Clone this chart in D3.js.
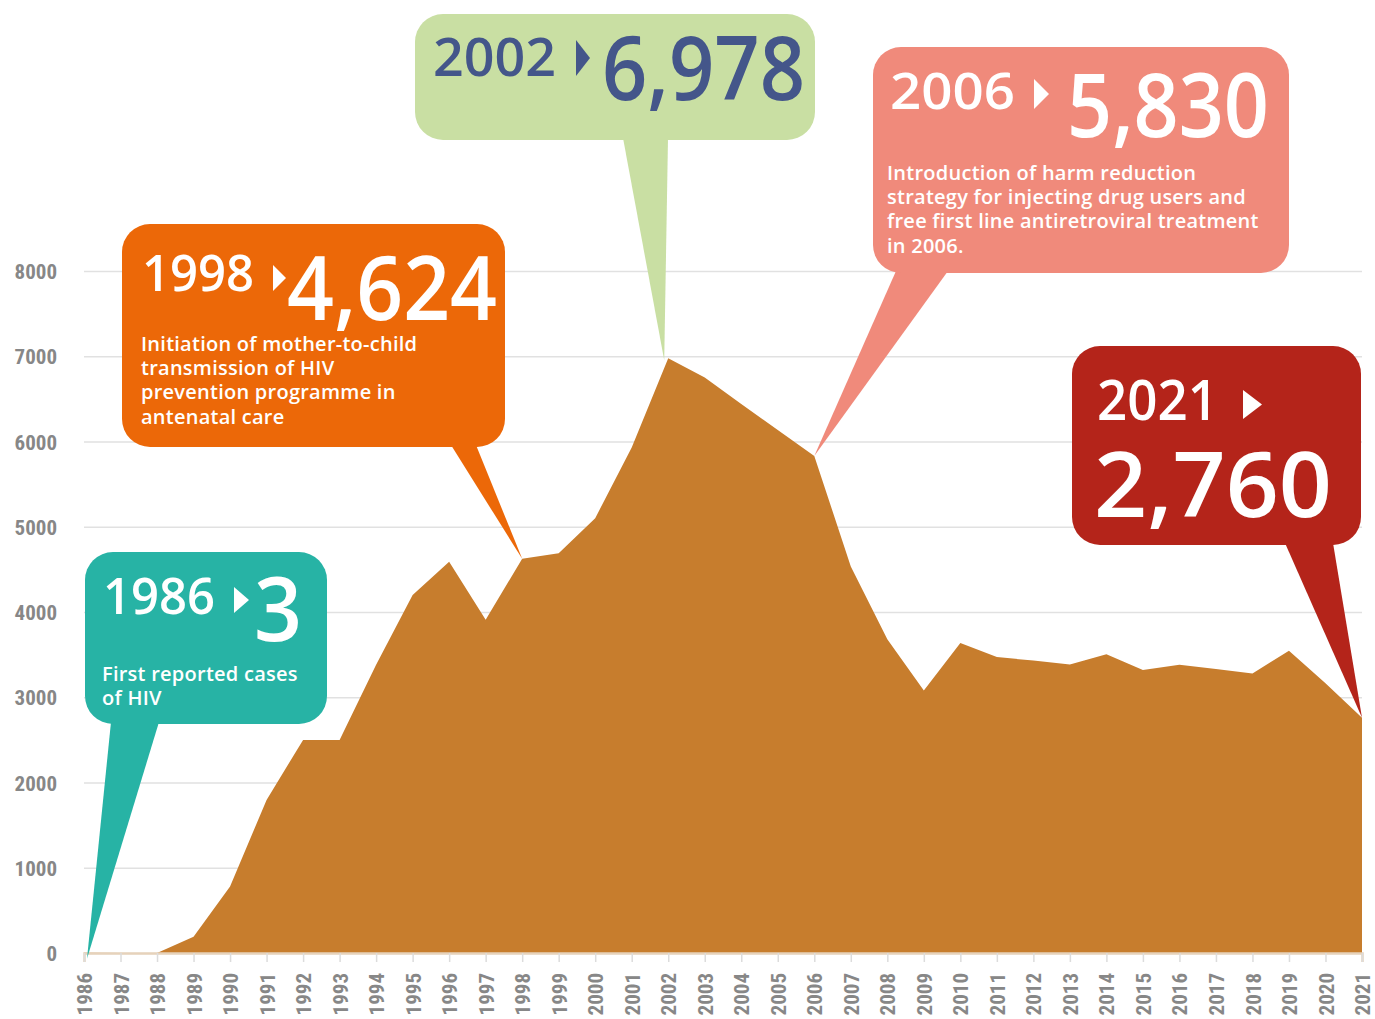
<!DOCTYPE html>
<html>
<head>
<meta charset="utf-8">
<script src="https://cdn.jsdelivr.net/npm/d3@7"></script>
<style>
  body { margin: 0; background: #fff; }
  svg { display: block; }
  .tick text { font-family: "Roboto Condensed", Roboto, "Liberation Sans", sans-serif; font-weight: 700; fill: #878787; }
  .callout text { font-family: "Open Sans", "Noto Sans", sans-serif; }
</style>
</head>
<body>
<div id="chart"></div>
<script>
// reported HIV cases per year
const years = d3.range(1986, 2022);
const cases = [3, 0, 0, 190, 780, 1795, 2500, 2500, 3380, 4200,
               4590, 3910, 4624, 4690, 5100, 5930, 6978, 6750, 6440, 6135,
               5830, 4535, 3680, 3080, 3636, 3472, 3430, 3385, 3505, 3320,
               3380, 3330, 3280, 3545, 3165, 2760];
const yTicks = [0, 1000, 2000, 3000, 4000, 5000, 6000, 7000, 8000];

// callout texts
const noteYears = [1986, 1998, 2002, 2006, 2021];
const noteLines = [
  ["First reported cases", "of HIV"],
  ["Initiation of mother-to-child", "transmission of HIV", "prevention programme in", "antenatal care"],
  [],
  ["Introduction of harm reduction", "strategy for injecting drug users and", "free first line antiretroviral treatment", "in 2006."],
  []
];

const W = 1375, H = 1019;
const x0 = 84, x1 = 1362, yBase = 953, yTop = 271;

let svg = d3.select("#chart").append("svg")
    .attr("width", W)
    .attr("height", H);

let x = d3.scaleLinear().domain([1986, 2021]).range([x0, x1]);
let y = d3.scaleLinear().domain([0, 8000]).range([yBase, yTop]);

// grid lines + y labels
let gy = svg.append("g")
    .attr("transform", "translate(" + x0 + ",0)")
    .call(d3.axisLeft(y).tickValues(yTicks).tickSize(-(x1 - x0)).tickPadding(27).tickFormat(d3.format("d")));
gy.select(".domain").remove();
gy.selectAll(".tick line").attr("stroke", "#e1e1e1").attr("stroke-width", 1.5);
gy.selectAll(".tick text").style("font-size", "21px").attr("dy", "0.36em");

// area
let data = years.map((yr, i) => ({year: yr, value: cases[i]}));
let area = d3.area()
    .x(d => x(d.year))
    .y0(yBase)
    .y1(d => y(d.value));
svg.append("path")
    .datum(data)
    .attr("d", area)
    .attr("fill", "#c77d2d");

// x axis
let gx = svg.append("g")
    .attr("transform", "translate(0," + yBase + ")")
    .call(d3.axisBottom(x).tickValues(years).tickSize(9).tickFormat(d3.format("d")));
gx.select(".domain").attr("stroke", "#e6d2bb").attr("stroke-width", 2.5);
gx.selectAll(".tick line").attr("stroke", "#dcdcdc").attr("stroke-width", 1.5);
gx.selectAll(".tick text")
    .style("font-size", "21px")
    .attr("transform", "rotate(-90)")
    .attr("x", -20)
    .attr("y", 0)
    .attr("dy", "0.36em")
    .style("text-anchor", "end");

// callout layout: box, pointer base, year / arrow / number / notes
const boxes = [
  {fill: "#27b3a5", ink: "#fff", b: [85, 552, 327, 724], tail: [111, 159], tip: [3, 6],
   yr: [103, 614, 50, 112], arrow: [234, 587, 15, 26], num: [254, 641, 88, 48], note: [102, 681, 24]},
  {fill: "#ec6808", ink: "#fff", b: [122, 224, 505, 447], tail: [451, 476], tip: [0, 0],
   yr: [142, 291, 50, 112], arrow: [273, 265, 13, 26], num: [287, 320, 88, 210], note: [141, 351, 24.2]},
  {fill: "#c9dfa3", ink: "#44568a", b: [415, 14, 815, 140], tail: [623, 668], tip: [-4, 2],
   yr: [433, 76, 52, 123], arrow: [576, 40, 14, 36], num: [602, 100, 88, 203], note: [0, 0, 0]},
  {fill: "#f08a7b", ink: "#fff", b: [873, 47, 1289, 273], tail: [896, 948], tip: [0, 0],
   yr: [890, 109, 50, 125], arrow: [1034, 79, 15, 30], num: [1067, 137, 88, 202], note: [887, 180, 24.2]},
  {fill: "#b4241a", ink: "#fff", b: [1072, 346, 1361, 545], tail: [1285, 1333], tip: [0, 0],
   yr: [1097, 420, 56, 121], arrow: [1243, 390, 19, 29], num: [1094, 517, 90, 238], note: [0, 0, 0]}
];

let fmt = d3.format(",");

noteYears.forEach((yr, i) => {
  let L = boxes[i];
  let v = cases[years.indexOf(yr)];
  let g = svg.append("g").attr("class", "callout");
  let tx = x(yr) + L.tip[0], ty = y(v) + L.tip[1];

  // pointer
  g.append("path")
      .attr("d", "M" + L.tail[0] + "," + (L.b[3] - 2) + "L" + tx + "," + ty + "L" + L.tail[1] + "," + (L.b[3] - 2) + "Z")
      .attr("fill", L.fill);

  g.append("rect")
      .attr("x", L.b[0]).attr("y", L.b[1])
      .attr("width", L.b[2] - L.b[0]).attr("height", L.b[3] - L.b[1])
      .attr("rx", 28)
      .attr("fill", L.fill);

  g.append("text")
      .attr("x", L.yr[0]).attr("y", L.yr[1])
      .style("font-size", L.yr[2] + "px")
      .style("font-weight", 600)
      .attr("textLength", L.yr[3])
      .attr("lengthAdjust", "spacingAndGlyphs")
      .attr("fill", L.ink)
      .text(yr);

  let a = L.arrow;
  g.append("path")
      .attr("d", "M" + a[0] + "," + a[1] + "L" + (a[0] + a[2]) + "," + (a[1] + a[3] / 2) + "L" + a[0] + "," + (a[1] + a[3]) + "Z")
      .attr("fill", L.ink);

  g.append("text")
      .attr("x", L.num[0]).attr("y", L.num[1])
      .style("font-size", L.num[2] + "px")
      .style("font-weight", 600)
      .attr("textLength", L.num[3])
      .attr("lengthAdjust", "spacingAndGlyphs")
      .attr("fill", L.ink)
      .text(fmt(v));

  noteLines[i].forEach((line, j) => {
    g.append("text")
        .attr("x", L.note[0]).attr("y", L.note[1] + j * L.note[2])
        .style("font-size", "20px")
        .style("font-weight", 600)
        .style("letter-spacing", "0.25px")
        .attr("fill", L.ink)
        .text(line);
  });
});
</script>
</body>
</html>
